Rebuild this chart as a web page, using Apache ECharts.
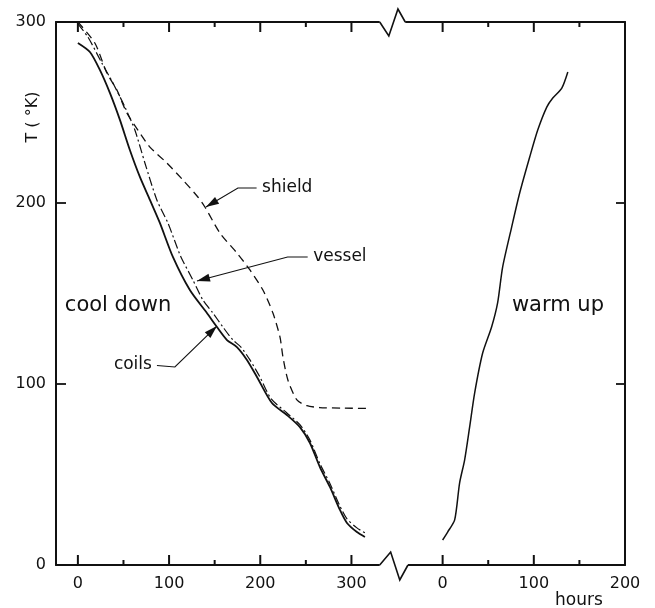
<!DOCTYPE html>
<html>
<head>
<meta charset="utf-8">
<script src="https://cdn.jsdelivr.net/npm/echarts@6/dist/echarts.min.js"></script>
<style>html,body{margin:0;padding:0;background:#fff;}#c{width:655px;height:608px;}</style>
</head>
<body>
<div id="c"></div>
<script>
// ---- data (hours, temperature in K) ----
const coilsHours = [0, 13.2, 24.1, 35.1, 46.1, 57.0, 68.0, 79.0, 89.9, 104.2, 122.8, 141.5, 152.5, 163.5, 174.4, 185.4, 196.4, 212.8, 229.2, 243.5, 254.5, 265.4, 276.4, 287.4, 295.1, 306.0, 314.8];
const coilsTemp  = [288.4, 283.4, 273.5, 260.8, 245.9, 229.3, 214.4, 201.7, 189.0, 170.2, 151.9, 139.2, 131.5, 124.3, 120.4, 113.3, 103.9, 89.5, 82.9, 76.2, 67.4, 54.1, 43.1, 30.4, 23.2, 18.2, 15.5];

const vesselHours = [0, 11, 26.3, 38.4, 51.6, 62.5, 73.5, 86.6, 98.7, 105.8, 113, 126.1, 137.1, 148.1, 159, 170, 178.8, 188.7, 199.6, 211.7, 229.2, 243.5, 254.5, 265.4, 276.4, 287.4, 295.1, 306, 314.8];
const vesselTemp  = [299, 291.7, 277.3, 266.3, 253, 240.3, 222.1, 201.7, 189, 179.6, 170.2, 157.5, 146.4, 139.2, 131.5, 124.3, 120.4, 113.3, 103.9, 92, 84, 77.5, 69, 56, 45, 32.5, 25.5, 20.5, 17.8];

const shieldHours = [0, 18.6, 31.8, 42.8, 53.7, 65.8, 79, 97.6, 115.2, 131.6, 139.3, 155.8, 174.4, 188.7, 202.9, 213.9, 221.6, 224.9, 230.3, 240.2, 251.2, 265, 290, 317];
const shieldTemp  = [300, 288.4, 271.8, 262.4, 249.7, 240.3, 230.9, 222.1, 212.7, 203.3, 197.8, 183.4, 172.4, 163, 151.9, 139.2, 126, 114.9, 102.2, 91.2, 88, 87, 86.7, 86.5];

const warmHours = [0, 5.5, 13.2, 18.6, 24.1, 29.6, 35.1, 43.9, 53.7, 60.3, 65.8, 75.7, 84.5, 95.5, 104.3, 114.2, 120.8, 130.7, 137.3];
const warmTemp  = [13.8, 18.2, 24.9, 45.3, 58, 76.2, 95, 117.1, 131.5, 144.8, 164.6, 186.7, 205.5, 225.4, 240.3, 253, 258, 263.5, 272.4];

// axis: cool-down hours map directly, warm-up hours are shifted past the break
const WARM_OFFSET = 400;
const majorTicks = [0, 100, 200, 300, 400, 500, 600];
const minorTicks = [50, 150, 250, 450, 550];
const labelTicks = [0, 100, 200, 300, 400, 500, 600];
const Y_MIN = 0, Y_MAX = 300;

const pair = (xs, ys, off) => xs.map((x, i) => [x + (off || 0), ys[i]]);

const FONT = '"DejaVu Sans", "Liberation Sans", sans-serif';
const INK = '#111';

const chart = echarts.init(document.getElementById('c'));

function arrowHead(p, q, len, hw) {
  const dx = p[0] - q[0], dy = p[1] - q[1];
  const d = Math.sqrt(dx * dx + dy * dy) || 1;
  const ux = dx / d, uy = dy / d;
  const bx = p[0] - ux * len, by = p[1] - uy * len;
  return [[p[0], p[1]], [bx - uy * hw, by + ux * hw], [bx + uy * hw, by - ux * hw]];
}

const annotations = [
  { text: 'shield', at: [202, 208.3], align: 'left', path: [[196, 208.3], [175.5, 208.3], [140.4, 197.8]] },
  { text: 'vessel', at: [258, 170.2], align: 'left', path: [[252, 170.2], [230, 170.2], [130.6, 156.9]] },
  { text: 'coils', at: [81.2, 110.5], align: 'right', path: [[86.7, 110.2], [106.4, 109.4], [152.5, 132]] }
];

function renderDecor(params, api) {
  const X = v => api.coord([v, 0])[0];
  const yb = api.coord([0, Y_MIN])[1];
  const yt = api.coord([0, Y_MAX])[1];
  const P = (v, t) => api.coord([v, t]);
  const children = [];
  // axis break
  children.push({ type: 'rect', shape: { x: X(331), y: yb - 3, width: X(362) - X(331), height: 6 }, style: { fill: '#fff' } });
  children.push({ type: 'rect', shape: { x: X(331), y: yt - 3, width: X(359) - X(331), height: 6 }, style: { fill: '#fff' } });
  children.push({ type: 'polyline', shape: { points: [[X(331), yb], [X(343), yb - 13], [X(353), yb + 15], [X(362), yb]] }, style: { stroke: INK, lineWidth: 1.6, fill: null } });
  children.push({ type: 'polyline', shape: { points: [[X(331), yt], [X(341), yt + 14], [X(351), yt - 13], [X(359), yt]] }, style: { stroke: INK, lineWidth: 1.6, fill: null } });
  // annotations
  annotations.forEach(a => {
    const pts = a.path.map(p => P(p[0], p[1]));
    children.push({ type: 'polyline', shape: { points: pts }, style: { stroke: INK, lineWidth: 1.1, fill: null } });
    const n = pts.length;
    children.push({ type: 'polygon', shape: { points: arrowHead(pts[n - 1], pts[n - 2], 13, 4) }, style: { fill: INK } });
    const tp = P(a.at[0], a.at[1]);
    children.push({ type: 'text', x: tp[0], y: tp[1], style: { text: a.text, fill: INK, font: '17px ' + FONT, align: a.align, verticalAlign: 'middle' } });
  });
  const cd = P(-14.3, 143.6);
  children.push({ type: 'text', x: cd[0], y: cd[1], style: { text: 'cool down', fill: INK, font: '21px ' + FONT, align: 'left', verticalAlign: 'middle' } });
  const wu = P(476, 143.1);
  children.push({ type: 'text', x: wu[0], y: wu[1], style: { text: 'warm up', fill: INK, font: '21px ' + FONT, align: 'left', verticalAlign: 'middle' } });
  const hr = P(549.5, -19.9);
  children.push({ type: 'text', x: hr[0], y: hr[1], style: { text: 'hours', fill: INK, font: '17px ' + FONT, align: 'center', verticalAlign: 'middle' } });
  const yt2 = P(-49.4, 247.5);
  children.push({ type: 'text', x: yt2[0], y: yt2[1], rotation: Math.PI / 2, style: { text: 'T ( °K)', fill: INK, font: '16px ' + FONT, align: 'center', verticalAlign: 'middle' } });
  return { type: 'group', children };
}

// tick marks along the top and bottom frame, as rectangle symbols placed on the axis values
function tickSeries(values, atY, len, dir) {
  return {
    type: 'scatter', silent: true, clip: false, z: 6,
    data: values.map(v => [v, atY]),
    symbol: 'rect', symbolSize: [2, len], symbolOffset: [0, dir * len / 2],
    itemStyle: { color: INK, opacity: 1 },
    emphasis: { disabled: true }
  };
}

chart.setOption({
  animation: false,
  backgroundColor: '#fff',
  grid: { left: 56, right: 30, top: 22, bottom: 43, containLabel: false },
  xAxis: [
    { type: 'value', min: -24, max: 600, position: 'bottom',
      axisLine: { show: true, onZero: false, lineStyle: { color: INK, width: 2 } },
      axisTick: { show: false },
      axisLabel: { show: true, customValues: labelTicks, margin: 11, color: INK, fontSize: 16, fontFamily: FONT,
        formatter: v => String(v >= WARM_OFFSET ? v - WARM_OFFSET : v) },
      splitLine: { show: false } },
    { type: 'value', min: -24, max: 600, position: 'top',
      axisLine: { show: true, onZero: false, lineStyle: { color: INK, width: 2 } },
      axisTick: { show: false },
      axisLabel: { show: false },
      splitLine: { show: false } }
  ],
  yAxis: [
    { type: 'value', min: Y_MIN, max: Y_MAX, interval: 100, position: 'left',
      axisLine: { show: true, onZero: false, lineStyle: { color: INK, width: 2 } },
      axisTick: { show: true, inside: true, length: 10, lineStyle: { color: INK, width: 1.8 } },
      axisLabel: { show: true, margin: 10, color: INK, fontSize: 16, fontFamily: FONT },
      splitLine: { show: false } },
    { type: 'value', min: Y_MIN, max: Y_MAX, interval: 100, position: 'right',
      axisLine: { show: true, onZero: false, lineStyle: { color: INK, width: 2 } },
      axisTick: { show: true, inside: true, length: 9, lineStyle: { color: INK, width: 1.8 } },
      axisLabel: { show: false },
      splitLine: { show: false } }
  ],
  series: [
    { name: 'shield', type: 'line', data: pair(shieldHours, shieldTemp), showSymbol: false, smooth: 0.25,
      lineStyle: { color: INK, width: 1.3, type: [8, 5] } },
    { name: 'vessel', type: 'line', data: pair(vesselHours, vesselTemp), showSymbol: false, smooth: 0.25,
      lineStyle: { color: INK, width: 1.2, type: [9, 3, 2, 3] } },
    { name: 'coils', type: 'line', data: pair(coilsHours, coilsTemp), showSymbol: false, smooth: 0.25,
      lineStyle: { color: INK, width: 1.8 } },
    { name: 'warm up', type: 'line', data: pair(warmHours, warmTemp, WARM_OFFSET), showSymbol: false, smooth: 0.25,
      lineStyle: { color: INK, width: 1.5 } },
    tickSeries(majorTicks, Y_MIN, 10, -1),
    tickSeries(majorTicks, Y_MAX, 10, 1),
    tickSeries(minorTicks, Y_MIN, 5, -1),
    tickSeries(minorTicks, Y_MAX, 5, 1),
    { type: 'custom', silent: true, clip: false, data: [[0, 0]], renderItem: renderDecor, z: 5 }
  ]
});
</script>
</body>
</html>
